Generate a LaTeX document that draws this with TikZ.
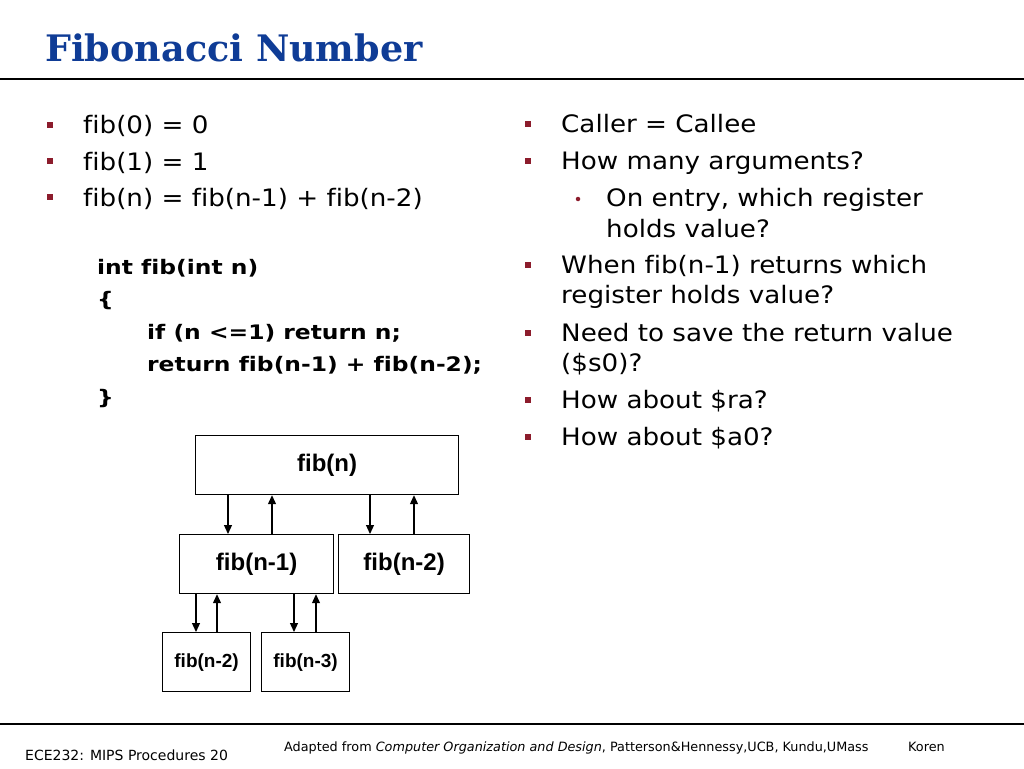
\documentclass[tikz,border=0pt]{standalone}
\usepackage{fontspec}
\setmainfont{DejaVu Sans}[Ligatures=NoCommon]
\newfontfamily\bodyfont{DejaVu Sans}[FakeStretch=1.09, Ligatures=NoCommon]
\newfontfamily\codefont{DejaVu Sans}[FakeStretch=1.17, Ligatures=NoCommon]
\newfontfamily\titlefont{DejaVu Serif}
\newfontfamily\boxfont{Liberation Sans}
\usetikzlibrary{arrows.meta,positioning}
\definecolor{titleblue}{HTML}{0F3C96}
\definecolor{bulletred}{HTML}{8C1C2C}
\tikzset{
  txt/.style={anchor=base west, inner sep=0pt, font=\bodyfont\fontsize{24}{24}\selectfont},
  code/.style={anchor=base west, inner sep=0pt, font=\codefont\fontsize{20}{20}\selectfont\bfseries},
  bul/.style={fill=bulletred, minimum size=6.5pt, inner sep=0pt},
  callbox/.style={draw, line width=1.2pt, anchor=north west, inner sep=0pt,
    font=\boxfont\bfseries\fontsize{24}{24}\selectfont},
  smallbox/.style={callbox, font=\boxfont\bfseries\fontsize{19}{19}\selectfont},
  call/.style={line width=1.2pt, -{Triangle[length=9pt,width=8pt]}},
  foot/.style={anchor=base west, inner sep=0pt, font=\fontsize{12.8}{12.8}\selectfont},
}
\begin{document}
\begin{tikzpicture}[x=1pt,y=-1pt]
  \useasboundingbox[fill=white] (0,0) rectangle (1024,768);
  % title
  \node[anchor=base west, inner sep=0pt, text=titleblue,
    font=\titlefont\bfseries\fontsize{36.5}{36.5}\selectfont] (title) at (45,62) {Fibonacci Number};
  \draw[line width=1.5pt] (0,79) -- (1024,79);
  % left column
  \node[bul] (lb1) at (50,125) {};
  \node[bul] (lb2) at (50,161) {};
  \node[bul] (lb3) at (50,197) {};
  \node[txt] (l1) at (83,133) {fib(0) = 0};
  \node[txt] (l2) at (83,170) {fib(1) = 1};
  \node[txt] (l3) at (83,206) {fib(n) = fib(n-1) + fib(n-2)};
  % code
  \node[code] (c1) at (97,274) {int fib(int n)};
  \node[code] (c2) at (97,306) {\{};
  \node[code] (c3) at (147,339) {if (n <=1) return n;};
  \node[code] (c4) at (147,371) {return fib(n-1) + fib(n-2);};
  \node[code] (c5) at (97,404) {\}};
  % call tree
  \node[callbox, minimum width=263pt, minimum height=59pt] (fibn) at (195,435) {fib(n)};
  \node[callbox, minimum width=154pt, minimum height=59pt] (fibm1) at (179,534) {fib(n-1)};
  \node[callbox, minimum width=131pt, minimum height=59pt] (fibm2) at (338,534) {fib(n-2)};
  \node[smallbox, minimum width=88pt, minimum height=59pt] (fibm1m1) at (162,632) {fib(n-2)};
  \node[smallbox, minimum width=88pt, minimum height=59pt] (fibm1m2) at (261,632) {fib(n-3)};
  \begin{scope}[call]
    \draw ([xshift=33]fibn.south west) to ([xshift=49]fibm1.north west);
    \draw ([xshift=93]fibm1.north west) to ([xshift=77]fibn.south west);
    \draw ([xshift=175]fibn.south west) to ([xshift=32]fibm2.north west);
    \draw ([xshift=76]fibm2.north west) to ([xshift=219]fibn.south west);
    \draw ([xshift=17]fibm1.south west) to ([xshift=34]fibm1m1.north west);
    \draw ([xshift=55]fibm1m1.north west) to ([xshift=38]fibm1.south west);
    \draw ([xshift=115]fibm1.south west) to ([xshift=33]fibm1m2.north west);
    \draw ([xshift=55]fibm1m2.north west) to ([xshift=137]fibm1.south west);
  \end{scope}
  % right column
  \node[bul] (rb1) at (528,124) {};
  \node[bul] (rb2) at (528,161) {};
  \node[fill=bulletred, circle, minimum size=4.5pt, inner sep=0pt] (rs1) at (578,199) {};
  \node[bul] (rb3) at (528,265) {};
  \node[bul] (rb4) at (528,333) {};
  \node[bul] (rb5) at (528,400) {};
  \node[bul] (rb6) at (528,437) {};
  \node[txt] (r1) at (561,132) {Caller = Callee};
  \node[txt] (r2) at (561,169) {How many arguments?};
  \node[txt] (r3) at (606,206) {On entry, which register};
  \node[txt] (r4) at (606,237) {holds value?};
  \node[txt] (r5) at (561,273) {When fib(n-1) returns which};
  \node[txt] (r6) at (561,303) {register holds value?};
  \node[txt] (r7) at (561,341) {Need to save the return value};
  \node[txt] (r8) at (561,371) {(\$s0)?};
  \node[txt] (r9) at (561,408) {How about \$ra?};
  \node[txt] (r10) at (561,445) {How about \$a0?};
  % footer
  \draw[line width=1.5pt] (0,724) -- (1024,724);
  \node[foot, font=\fontsize{14}{14}\selectfont] (course) at (25,760) {ECE232: MIPS Procedures 20};
  \node[foot] (credit) at (284,751)
    {Adapted from \textit{Computer Organization and Design}, Patterson\&Hennessy,UCB, Kundu,UMass};
  \node[foot] (koren) at (908,751) {Koren};
\end{tikzpicture}
\end{document}
